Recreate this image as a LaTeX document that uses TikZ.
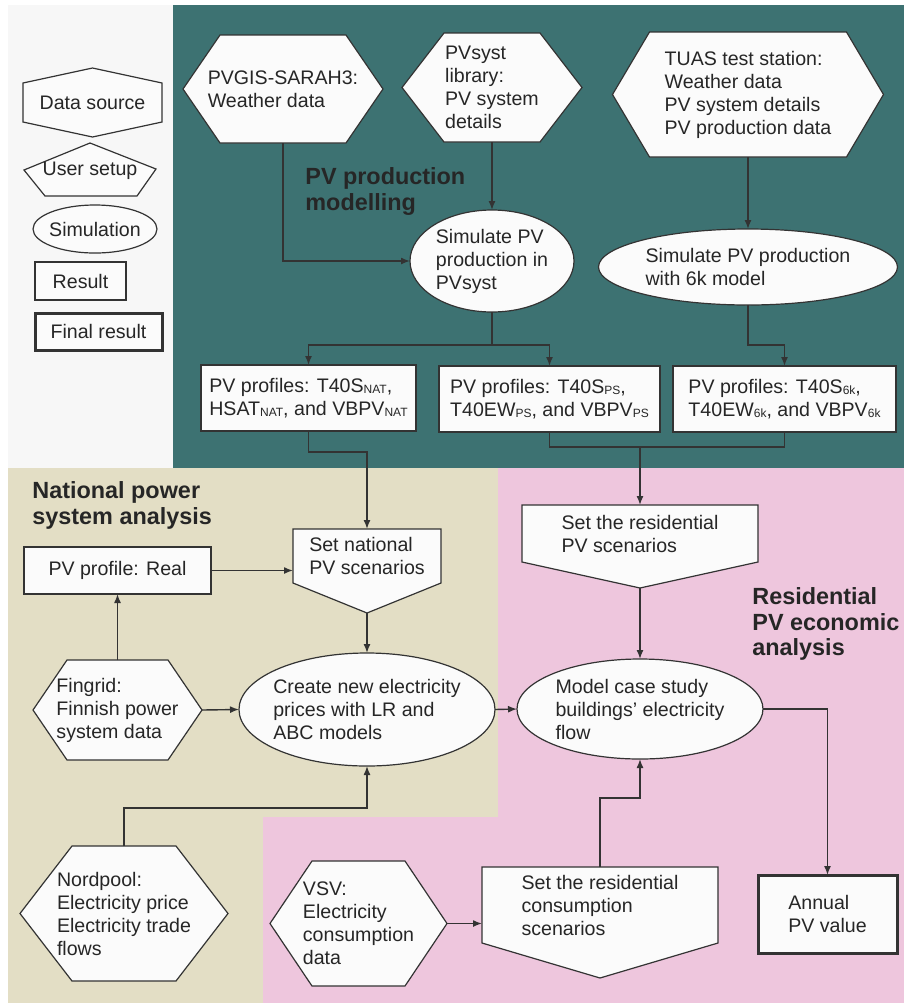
\documentclass[tikz,border=0pt]{standalone}
\usepackage{fontspec}
\setmainfont{Liberation Sans}
\usetikzlibrary{arrows.meta,shapes.geometric}

\definecolor{legendbg}{HTML}{F7F7F7}
\definecolor{tealbg}{HTML}{3D7272}
\definecolor{beigebg}{HTML}{E3DEC5}
\definecolor{pinkbg}{HTML}{EEC6DD}
\definecolor{boxfill}{HTML}{FBFBFB}
\definecolor{edge}{HTML}{333333}

\pgfdeclarelayer{regions}
\pgfdeclarelayer{shapes}
\pgfsetlayers{regions,shapes,main}

% small caps-like indices of the PV profiles
\newcommand{\pvsub}[1]{\raisebox{-0.4pt}{\fontsize{6}{6}\selectfont #1}}

% data source hexagon round a named node
\newcommand{\hexsrc}[2]{%
  \begin{pgfonlayer}{shapes}
    \filldraw[shapeline] (#1.west) -- ([xshift=#2]#1.north west) -- ([xshift=-#2]#1.north east)
      -- (#1.east) -- ([xshift=-#2]#1.south east) -- ([xshift=#2]#1.south west) -- cycle;
  \end{pgfonlayer}}

% user setup pentagon below a named node
\newcommand{\setuppent}[2]{%
  \begin{pgfonlayer}{shapes}
    \filldraw[shapeline] (#1.north west) -- (#1.north east) -- (#1.south east)
      -- ([yshift=-#2]#1.south) -- (#1.south west) -- cycle;
  \end{pgfonlayer}
  \coordinate (#1 tip) at ([yshift=-#2]#1.south);}

\tikzset{
  shapeline/.style={draw=edge, fill=boxfill, line width=0.6pt},
  txt/.style={font=\fontsize{9.8}{11.5}\selectfont, text=black!85, align=left,
    inner sep=0pt, outer sep=0pt},
  srcnode/.style={txt},
  setupnode/.style={txt},
  simnode/.style={txt, ellipse, draw=edge, fill=boxfill, line width=0.6pt, inner sep=-8pt},
  resnode/.style={txt, rectangle, draw=edge, fill=boxfill, line width=0.6pt},
  finalnode/.style={resnode, line width=1.5pt},
  heading/.style={font=\fontsize{11.7}{12.9}\selectfont\bfseries, text=black!85,
    align=left, inner sep=0pt, anchor=north west},
  link/.style={draw=edge, line width=0.7pt},
  flow/.style={link, -{Latex[length=4.5pt,width=3.5pt]}}
}

\begin{document}
\begin{tikzpicture}[x=0.5pt,y=-0.5pt]
\useasboundingbox (0,0) rectangle (904,1003);

% background areas
\begin{pgfonlayer}{regions}
\fill[white] (0,0) rectangle (904,1003);
\fill[legendbg] (8,5) rectangle (173,468);
\fill[tealbg] (173,5) rectangle (904,468);
\fill[beigebg] (8,468) -- (498,468) -- (498,817) -- (263,817) -- (263,1003) -- (8,1003) -- cycle;
\fill[pinkbg] (498,468) -- (904,468) -- (904,1003) -- (263,1003) -- (263,817) -- (498,817) -- cycle;
\end{pgfonlayer}

% legend
\node[srcnode, minimum width=69.5pt, minimum height=34.5pt] (legsrc) at (92.5,102.5) {Data source};
\begin{pgfonlayer}{shapes}
\filldraw[shapeline] (legsrc.north) -- ([yshift=-7.5pt]legsrc.north east) -- ([yshift=7.5pt]legsrc.south east)
  -- (legsrc.south) -- ([yshift=7.5pt]legsrc.south west) -- ([yshift=-7.5pt]legsrc.north west) -- cycle;
\end{pgfonlayer}
\node[setupnode, minimum width=66pt, minimum height=25pt] (leguser) at (90,171) {User setup};
\begin{pgfonlayer}{shapes}
\filldraw[shapeline] ([yshift=1.5pt]leguser.north) -- ([yshift=1pt]leguser.east) -- ([xshift=-9.5pt]leguser.south east)
  -- ([xshift=10.5pt]leguser.south west) -- ([yshift=0.5pt]leguser.west) -- cycle;
\end{pgfonlayer}
\node[simnode, minimum width=62pt, minimum height=24pt] (legsim) at (95,229) {Simulation};
\node[resnode, minimum width=45.5pt, minimum height=19pt] (legres) at (80.5,281) {Result};
\node[finalnode, minimum width=63.5pt, minimum height=18.5pt] (legfin) at (98.5,331.5) {Final result};

% PV production modelling
\node[srcnode, minimum width=100pt, minimum height=54pt] (pvgis) at (283,89) {PVGIS-SARAH3:\\Weather data};
\hexsrc{pvgis}{18.5pt}
\node[srcnode, minimum width=90pt, minimum height=54.5pt] (lib) at (492,87.5) {PVsyst\\library:\\PV system\\details};
\hexsrc{lib}{21pt}
\node[srcnode, minimum width=135.5pt, minimum height=62.5pt] (tuas) at (748,94.5) {TUAS test station:\\Weather data\\PV system details\\PV production data};
\hexsrc{tuas}{18.5pt}
\node[heading] (pvlabel) at (305,167) {PV production\\modelling};
\node[simnode, minimum width=82pt, minimum height=51pt] (sim) at (492,261) {Simulate PV\\production in\\PVsyst};
\node[simnode, minimum width=149.5pt, minimum height=38pt] (sixk) at (748,267) {Simulate PV production\\with 6k model};
\node[resnode, minimum width=107.5pt, minimum height=33pt] (prof1) at (308.5,398) {PV profiles: T40S\pvsub{NAT},\\HSAT\pvsub{NAT}, and VBPV\pvsub{NAT}};
\node[resnode, minimum width=110.5pt, minimum height=33pt] (prof2) at (549.5,399) {PV profiles: T40S\pvsub{PS},\\T40EW\pvsub{PS}, and VBPV\pvsub{PS}};
\node[resnode, minimum width=111.5pt, minimum height=33pt] (prof3) at (784.5,399) {PV profiles: T40S\pvsub{6k},\\T40EW\pvsub{6k}, and VBPV\pvsub{6k}};

% National power system analysis
\node[heading] (natlabel) at (32,481) {National power\\system analysis};
\node[resnode, minimum width=93.5pt, minimum height=23.5pt] (real) at (117.5,570.5) {PV profile: Real};
\node[setupnode, minimum width=74pt, minimum height=27pt] (natset) at (367,556) {Set national\\PV scenarios};
\setuppent{natset}{15pt}
\node[srcnode, minimum width=84.5pt, minimum height=50pt] (fingrid) at (117.5,710) {Fingrid:\\Finnish power\\system data};
\hexsrc{fingrid}{17pt}
\node[simnode, minimum width=128pt, minimum height=56.5pt] (create) at (367,709.5) {Create new electricity\\prices with LR and\\ABC models};
\node[srcnode, minimum width=104pt, minimum height=67.5pt] (nord) at (124,913.5) {Nordpool:\\Electricity price\\Electricity trade\\flows};
\hexsrc{nord}{26pt}

% Residential PV economic analysis
\node[heading] (reslabel) at (752,587) {Residential\\PV economic\\analysis};
\node[setupnode, minimum width=118pt, minimum height=28.5pt] (resset) at (640,533.5) {Set the residential\\PV scenarios};
\setuppent{resset}{13pt}
\node[simnode, minimum width=123pt, minimum height=50pt] (model) at (640,709) {Model case study\\buildings' electricity\\flow};
\node[srcnode, minimum width=88.5pt, minimum height=62.5pt] (vsv) at (358.5,923.5) {VSV:\\Electricity\\consumption\\data};
\hexsrc{vsv}{21pt}
\node[setupnode, minimum width=118pt, minimum height=38pt] (conset) at (600,905) {Set the residential\\consumption\\scenarios};
\setuppent{conset}{17.5pt}
\node[finalnode, minimum width=69.5pt, minimum height=39pt] (annual) at (827.5,914) {Annual\\PV value};

% connectors
\draw[flow] (pvgis.south) |- (sim.west);
\draw[flow] (lib.south) -- (sim.north);
\draw[flow] (tuas.south) -- (sixk.north);
\draw[link] (sim.south) -- ++(0,33) coordinate (simsplit);
\draw[flow] (simsplit) -| (prof1.north);
\draw[flow] (simsplit) -| (prof2.north);
\draw[flow] (sixk.south) -- ++(0,40) -| (prof3.north);
\draw[flow] (prof1.south) -- ++(0,21) -| (natset.north);
\draw[link] (prof2.south) -- ++(0,15) coordinate (profjoin) -| (prof3.south);
\draw[flow] (profjoin -| resset.north) -- (resset.north);
\draw[flow] (real.east) -- (real.east -| natset.west);
\draw[flow] (fingrid.north) -- (real.south);
\draw[flow] (natset tip) -- (create.north);
\draw[flow] (fingrid.east) -- (create.west);
\draw[flow] (nord.north) -- ++(0,-38) -| (create.south);
\draw[flow] (create.east) -- (model.west);
\draw[flow] (resset tip) -- (model.north);
\draw[flow] (model.east) -| (annual.north);
\draw[flow] (vsv.east) -- (vsv.east -| conset.west);
\draw[flow] (conset.north) -- ++(0,-69) -| (model.south);
\end{tikzpicture}
\end{document}
